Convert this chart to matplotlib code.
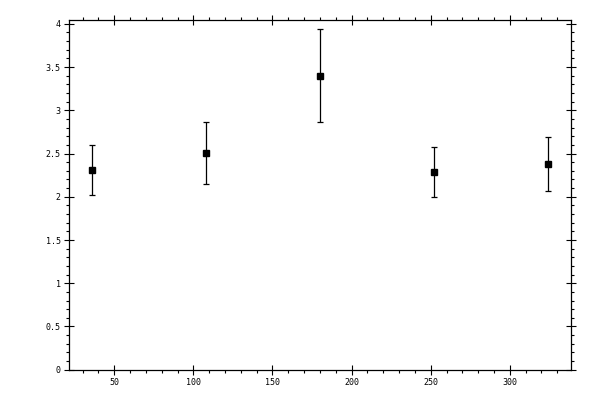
import matplotlib
matplotlib.use("Agg")
import matplotlib.pyplot as plt
from matplotlib.ticker import MultipleLocator

# values
xVals = [36, 108, 180, 252, 324]
yVals = [2.31, 2.51, 3.40, 2.29, 2.38]
yErr = [0.29, 0.36, 0.54, 0.29, 0.31]

fig = plt.figure(figsize=(6, 4), dpi=100)
ax = fig.add_axes([0.1155, 0.0757, 0.8355, 0.8755])

ax.errorbar(xVals, yVals, yerr=yErr, fmt='s', color='black', ms=4.5,
            elinewidth=0.9, capsize=2.4, capthick=0.9)

ax.set_xlim(21.6, 338.4)
ax.set_ylim(0, 4.05)

ax.xaxis.set_major_locator(MultipleLocator(50))
ax.xaxis.set_minor_locator(MultipleLocator(10))
ax.yaxis.set_major_locator(MultipleLocator(0.5))
ax.yaxis.set_minor_locator(MultipleLocator(0.1))
ax.yaxis.set_major_formatter(plt.FuncFormatter(lambda v, p: ('%g' % v)))

ax.tick_params(which='major', direction='inout', length=6.5, width=0.8,
               top=True, right=True, pad=3, labelsize=6)
ax.tick_params(which='minor', direction='out', length=2.5, width=0.8,
               top=True, right=True)
for lab in ax.get_xticklabels() + ax.get_yticklabels():
    lab.set_family('DejaVu Sans Mono')
for sp in ax.spines.values():
    sp.set_linewidth(0.9)

fig.savefig('out.png', dpi=100)
